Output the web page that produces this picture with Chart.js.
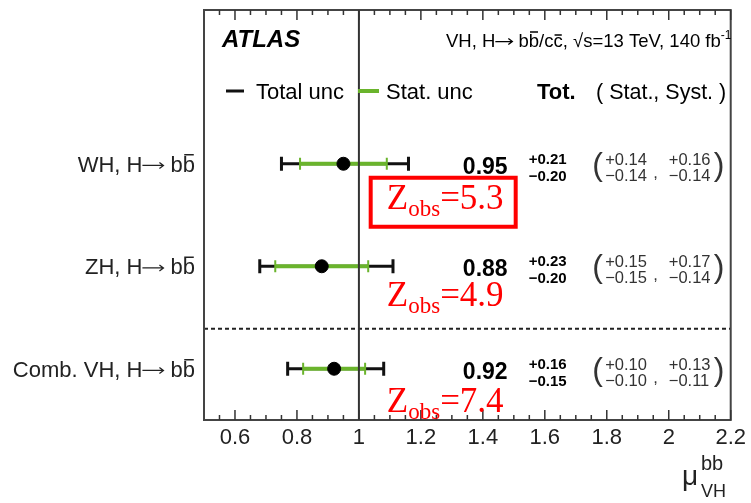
<!DOCTYPE html>
<html>
<head>
<meta charset="utf-8">
<script src="https://cdn.jsdelivr.net/npm/chart.js@4.4.1/dist/chart.umd.min.js"></script>
<style>
  html, body { margin: 0; padding: 0; background: #fff; }
  #wrap { width: 751px; height: 503px; }
</style>
</head>
<body>
<div id="wrap"><canvas id="c" width="751" height="503"></canvas></div>
<script>
// ---------- DATA (rows bottom -> top) ----------
const rowNames = ["Comb. VH, H", "ZH, H", "WH, H"];
const rowY     = [1, 2, 3];
const mu       = [0.92, 0.88, 0.95];
const totUp    = [0.16, 0.23, 0.21];
const totDn    = [0.15, 0.20, 0.20];
const statUp   = [0.10, 0.15, 0.14];
const statDn   = [0.10, 0.15, 0.14];
const systUp   = [0.13, 0.17, 0.16];
const systDn   = [0.11, 0.14, 0.14];
const zObs     = ["7.4", "4.9", "5.3"];
const xTicks   = [0.6, 0.8, 1.0, 1.2, 1.4, 1.6, 1.8, 2.0, 2.2];

const GREEN = "#6ab42c";
const SANS  = "'Liberation Sans', Arial, sans-serif";
const SERIF = "'Liberation Serif', 'Times New Roman', serif";
const f2 = v => v.toFixed(2);

// ---------- DATASETS ----------
const datasets = [];

datasets.push({
  data: mu.map((m, i) => ({ x: m, y: rowY[i] })),
  pointStyle: "circle", pointRadius: 6.5, pointBackgroundColor: "#000",
  pointBorderColor: "#000", showLine: false, order: 0
});

datasets.push({
  data: [{ x: 1, y: 0.5 }, { x: 1, y: 4.5 }],
  showLine: true, borderColor: "#333", borderWidth: 2, pointRadius: 0, order: 1
});

rowY.forEach((y, i) => {
  datasets.push({
    data: [{ x: mu[i] - statDn[i], y }, { x: mu[i] + statUp[i], y }],
    showLine: true, borderColor: GREEN, borderWidth: 4,
    pointStyle: "line", pointRotation: 90, pointRadius: 6,
    pointBorderColor: GREEN, pointBorderWidth: 2, order: 2
  });
  datasets.push({
    data: [{ x: mu[i] - totDn[i], y }, { x: mu[i] + totUp[i], y }],
    showLine: true, borderColor: "#111", borderWidth: 3,
    pointStyle: "line", pointRotation: 90, pointRadius: 7,
    pointBorderColor: "#111", pointBorderWidth: 3, order: 3
  });
});

datasets.push({
  data: [{ x: 0.5, y: 1.39 }, { x: 2.2, y: 1.39 }],
  showLine: true, borderColor: "#222", borderWidth: 2, borderDash: [4, 3],
  pointRadius: 0, order: 4
});

// ---------- TEXT HELPER ----------
// parts: {t, font, size, color, dy, over, arrow}
function rich(ctx, x, y, parts, align) {
  const pw = p => {
    if (p.arrow) return p.arrow;
    ctx.font = p.font;
    return ctx.measureText(p.t).width;
  };
  let w = 0;
  parts.forEach(p => { w += pw(p); });
  let cx = align === "right" ? x - w : x;
  parts.forEach(p => {
    const c = p.color || "#000";
    const wd = pw(p);
    if (p.arrow) {
      const ay = y - p.size * 0.3;
      ctx.strokeStyle = c; ctx.lineWidth = 1.3;
      ctx.beginPath();
      ctx.moveTo(cx, ay); ctx.lineTo(cx + wd - 1, ay);
      ctx.moveTo(cx + wd - 5, ay - 3); ctx.lineTo(cx + wd - 1, ay); ctx.lineTo(cx + wd - 5, ay + 3);
      ctx.stroke();
    } else {
      ctx.font = p.font;
      ctx.fillStyle = c;
      ctx.fillText(p.t, cx, y + (p.dy || 0));
      if (p.over) {
        const oy = y + (p.dy || 0) - p.over;
        ctx.beginPath();
        ctx.strokeStyle = c;
        ctx.lineWidth = 1.5;
        ctx.moveTo(cx + wd * 0.12, oy);
        ctx.lineTo(cx + wd * 0.9, oy);
        ctx.stroke();
      }
    }
    cx += wd;
  });
}

// ---------- OVERLAY PLUGIN ----------
const overlay = {
  id: "overlay",
  afterDraw(chart) {
    const ctx = chart.ctx;
    const a = chart.chartArea;
    const xs = chart.scales.x, ys = chart.scales.y;
    ctx.save();
    ctx.textBaseline = "alphabetic";
    ctx.textAlign = "left";

    // frame
    ctx.strokeStyle = "#444";
    ctx.lineWidth = 2;
    ctx.strokeRect(a.left, a.top, a.right - a.left, a.bottom - a.top);

    // inward ticks top and bottom
    ctx.lineWidth = 1.5;
    ctx.strokeStyle = "#333";
    for (let k = 11; k <= 44; k++) {
      const px = xs.getPixelForValue(k * 0.05);
      const len = k % 4 === 0 ? 10 : 5;
      ctx.beginPath();
      ctx.moveTo(px, a.bottom); ctx.lineTo(px, a.bottom - len);
      ctx.moveTo(px, a.top);    ctx.lineTo(px, a.top + len);
      ctx.stroke();
    }

    // header
    rich(ctx, a.left + 18, a.top + 37, [{ t: "ATLAS", font: "italic bold 24px " + SANS }]);
    const sh = "18.5px " + SANS;
    rich(ctx, a.left + 242, a.top + 37, [
      { t: "VH, H", font: sh },
      { arrow: 18, size: 18 },
      { t: " b", font: sh },
      { t: "b", font: sh, over: 15 },
      { t: "/c", font: sh },
      { t: "c", font: sh, over: 12 },
      { t: ", \u221As=13 TeV, 140 fb", font: sh },
      { t: "-1", font: "12px " + SANS, dy: -8 }
    ]);

    // legend
    const ly = a.top + 81;
    ctx.lineWidth = 3; ctx.strokeStyle = "#111";
    ctx.beginPath(); ctx.moveTo(a.left + 22, ly); ctx.lineTo(a.left + 40, ly); ctx.stroke();
    ctx.lineWidth = 4; ctx.strokeStyle = GREEN;
    ctx.beginPath(); ctx.moveTo(a.left + 154, ly); ctx.lineTo(a.left + 175, ly); ctx.stroke();
    rich(ctx, a.left + 52, ly + 8, [{ t: "Total unc", font: "22px " + SANS }]);
    rich(ctx, a.left + 182, ly + 8, [{ t: "Stat. unc", font: "22px " + SANS }]);
    rich(ctx, a.left + 333, ly + 8, [{ t: "Tot.", font: "bold 22px " + SANS }]);
    rich(ctx, a.left + 392, ly + 8, [{ t: "( Stat., Syst. )", font: "21.5px " + SANS }]);

    // rows
    rowY.forEach((y, i) => {
      const py = ys.getPixelForValue(y);
      const rf = "22px " + SANS;
      rich(ctx, a.left - 9, py + 8, [
        { t: rowNames[i], font: rf, color: "#222" },
        { arrow: 22, size: 21, color: "#222" },
        { t: " b", font: rf, color: "#222" },
        { t: "b", font: rf, over: 17, color: "#222" }
      ], "right");

      rich(ctx, xs.getPixelForValue(1.48), py + 10, [{ t: f2(mu[i]), font: "bold 23px " + SANS }], "right");
      rich(ctx, xs.getPixelForValue(1.548), py, [{ t: "+" + f2(totUp[i]), font: "bold 15px " + SANS }]);
      rich(ctx, xs.getPixelForValue(1.548), py + 17, [{ t: "\u2212" + f2(totDn[i]), font: "bold 15px " + SANS }]);

      const gray = "#333";
      const s16 = "16.5px " + SANS;
      rich(ctx, xs.getPixelForValue(1.753), py + 11, [{ t: "(", font: "32px " + SANS, color: gray }]);
      rich(ctx, xs.getPixelForValue(1.795), py + 1, [{ t: "+" + f2(statUp[i]), font: s16, color: gray }]);
      rich(ctx, xs.getPixelForValue(1.795), py + 17, [{ t: "\u2212" + f2(statDn[i]), font: s16, color: gray }]);
      rich(ctx, xs.getPixelForValue(1.95), py + 14, [{ t: ",", font: s16, color: gray }]);
      rich(ctx, xs.getPixelForValue(2.0), py + 1, [{ t: "+" + f2(systUp[i]), font: s16, color: gray }]);
      rich(ctx, xs.getPixelForValue(2.0), py + 17, [{ t: "\u2212" + f2(systDn[i]), font: s16, color: gray }]);
      rich(ctx, xs.getPixelForValue(2.145), py + 11, [{ t: ")", font: "32px " + SANS, color: gray }]);

      // Z_obs
      const zx = xs.getPixelForValue(1.09);
      const zy = py + [43, 40, 45][i];
      rich(ctx, zx, zy, [
        { t: "Z", font: "35px " + SERIF, color: "#f00" },
        { t: "obs", font: "23px " + SERIF, color: "#f00", dy: 7 },
        { t: "=" + zObs[i], font: "35px " + SERIF, color: "#f00" }
      ]);
      if (i === 2) {
        ctx.strokeStyle = "#f00"; ctx.lineWidth = 4;
        ctx.strokeRect(xs.getPixelForValue(1.038), py + 14, 145, 49);
      }
    });

    // x title
    rich(ctx, 682, 485, [{ t: "\u03BC", font: "28px " + SANS, color: "#222" }]);
    rich(ctx, 701, 470, [{ t: "bb", font: "20px " + SANS, color: "#222" }]);
    rich(ctx, 701, 497, [{ t: "VH", font: "18px " + SANS, color: "#222" }]);

    ctx.restore();
  }
};

// ---------- CHART ----------
new Chart(document.getElementById("c"), {
  type: "scatter",
  data: { datasets },
  options: {
    responsive: false,
    animation: false,
    layout: { padding: { left: 204, right: 18, top: 9, bottom: 0 } },
    plugins: { legend: { display: false }, tooltip: { enabled: false } },
    scales: {
      x: {
        type: "linear", min: 0.5, max: 2.2,
        afterBuildTicks: s => { s.ticks = xTicks.map(v => ({ value: v })); },
        afterFit: s => { s.height = 83; },
        grid: { display: false, drawTicks: false },
        border: { display: false },
        ticks: {
          padding: 5, color: "#222", maxRotation: 0, autoSkip: false,
          font: { family: SANS, size: 22 },
          callback: v => String(+(+v).toFixed(1))
        }
      },
      y: { type: "linear", min: 0.5, max: 4.5, display: false }
    }
  },
  plugins: [overlay]
});
</script>
</body>
</html>
